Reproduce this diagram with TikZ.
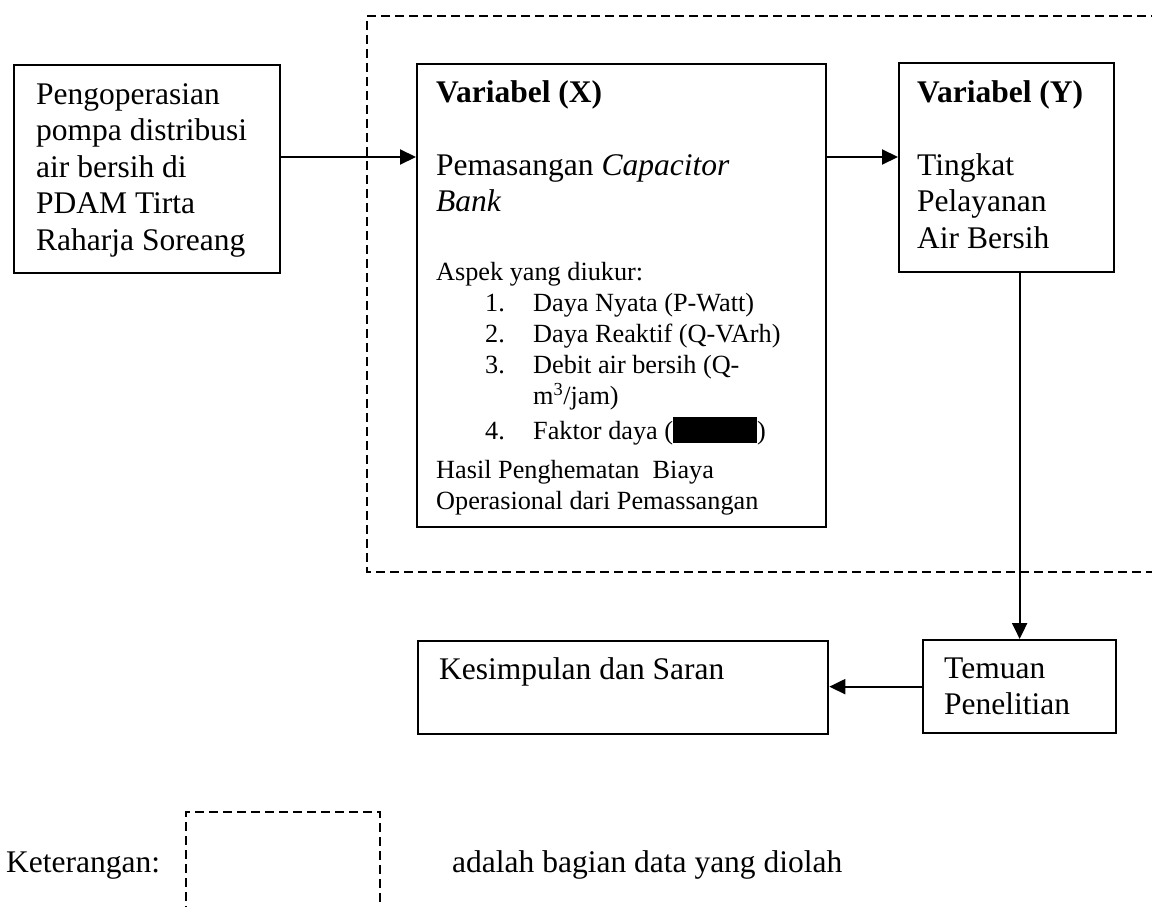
\documentclass[tikz,border=0pt]{standalone}
\usepackage{fontspec}
\setmainfont{Liberation Serif}
\usetikzlibrary{arrows.meta, positioning}

\newcommand{\bigtxt}{\fontsize{31.5}{36.5}\selectfont}
\newcommand{\smalltxt}{\fontsize{26.25}{31}\selectfont}
\newcommand{\aspekitem}[1]{\hspace*{49pt}\makebox[48pt][l]{#1}}

\begin{document}
\begin{tikzpicture}[x=1pt, y=-1pt,
    block/.style={rectangle, draw, line width=2.3pt, anchor=north west, inner sep=0pt},
    txt/.style={anchor=north west, inner sep=0pt, align=left, font=\bigtxt},
    listtxt/.style={anchor=north west, inner sep=0pt, align=left, font=\smalltxt},
    zone/.style={dash pattern=on 9pt off 5pt, line width=1.7pt},
    arrow/.style={-{Triangle[length=16pt, width=15pt]}, line width=2.1pt}
]
\clip (0,0) rectangle (1152,907);

% boxes
\node[block, minimum width=266pt, minimum height=208pt] (src) at (13,64) {};
\node[block, minimum width=409pt, minimum height=463pt] (varx) at (416,63) {};
\node[block, minimum width=215pt, minimum height=209pt] (vary) at (898,62) {};
\node[block, minimum width=193pt, minimum height=93pt] (temuan) at (922,639) {};
\node[block, minimum width=410pt, minimum height=93pt] (simpul) at (417,640) {};

% texts
\node[txt] (srctxt) at (36,78.5) {\strut Pengoperasian\\ pompa distribusi\\ air bersih di\\ PDAM Tirta\\ Raharja Soreang};
\node[txt] (varxhead) at (436,76.5) {\strut\textbf{Variabel (X)}\\[36.5pt] Pemasangan \textit{Capacitor}\\ \textit{Bank}};
\node[listtxt] (varxlist) at (436,258.3) {\strut Aspek yang diukur:\\
    \aspekitem{1.}Daya Nyata (P-Watt)\\
    \aspekitem{2.}Daya Reaktif (Q-VArh)\\
    \aspekitem{3.}Debit air bersih (Q-\\
    \hspace*{97pt}m\textsuperscript{3}/jam)\\[4pt]
    \aspekitem{4.}Faktor daya (\rule[-4pt]{84pt}{26pt})};
\node[listtxt] (varxtail) at (436,456.3) {\strut Hasil Penghematan\ \ Biaya\\ Operasional dari Pemassangan};
\node[txt] (varytxt) at (917,76.5) {\strut\textbf{Variabel (Y)}\\[36.5pt] Tingkat\\ Pelayanan\\ Air Bersih};
\node[txt] (simpultxt) at (439,653.5) {\strut Kesimpulan dan Saran};
\node[txt] (temuantxt) at (944,652.5) {\strut Temuan\\ Penelitian};

% dashed frame of processed data
\draw[zone] (1160,16) -- (367,16) -- (367,572) -- (1160,572);

% legend
\node[txt] (ket) at (6,846.5) {\strut Keterangan:};
\draw[zone] (186,915) -- (186,812) -- (380,812) -- (380,915);
\node[txt] (kettxt) at (452,846.5) {\strut adalah bagian data yang diolah};

% connectors
\coordinate (row) at (0,157);
\draw[arrow] (src.east |- row) -- (varx.west |- row);
\draw[arrow] (varx.east |- row) -- (vary.west |- row);
\draw[arrow] (vary.south -| temuan.north) -- (temuan.north);
\draw[arrow] (temuan.west) -- (temuan.west -| simpul.east);
\end{tikzpicture}
\end{document}
